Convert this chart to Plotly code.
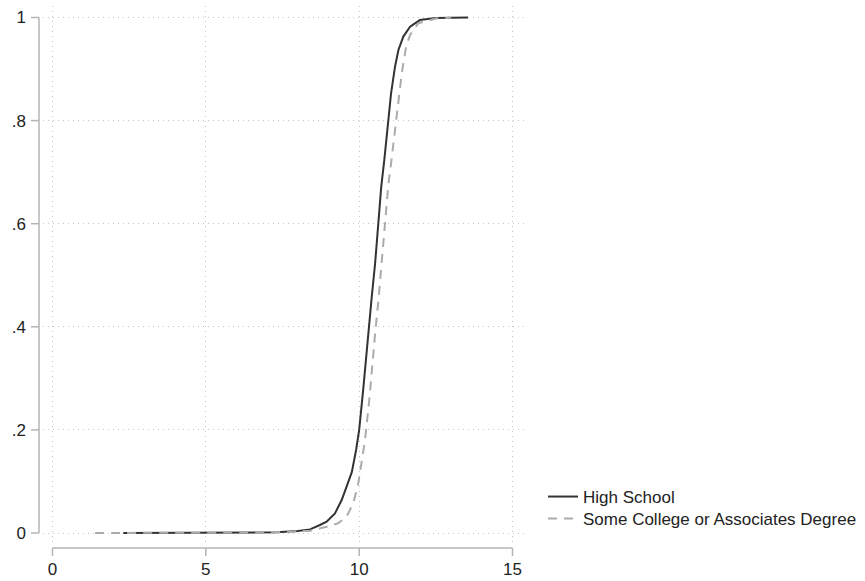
import plotly.graph_objects as go

hs_x = [2.31, 4.0, 6.0, 7.3, 8.0, 8.4, 8.72, 8.94, 9.21, 9.43, 9.59, 9.76, 9.90, 10.0,
        10.13, 10.24, 10.32, 10.41, 10.52, 10.62, 10.72, 10.82, 10.95, 11.04, 11.17,
        11.28, 11.44, 11.66, 11.98, 12.5, 13.55]
hs_y = [0.0, 0.0003, 0.0008, 0.0014, 0.004, 0.007, 0.0155, 0.022, 0.038, 0.064, 0.090,
        0.118, 0.161, 0.200, 0.277, 0.355, 0.400, 0.458, 0.523, 0.601, 0.672, 0.724,
        0.801, 0.853, 0.905, 0.937, 0.963, 0.982, 0.995, 0.999, 1.0]

sc_x = [1.39, 3.0, 5.0, 7.0, 8.0, 8.4, 8.94, 9.32, 9.59, 9.81, 9.97, 10.05, 10.19, 10.33,
        10.44, 10.52, 10.62, 10.73, 10.84, 10.95, 11.04, 11.17, 11.28, 11.39, 11.53,
        11.66, 11.93, 12.5, 13.0]
sc_y = [0.0, 0.0002, 0.0005, 0.001, 0.003, 0.0045, 0.012, 0.019, 0.032, 0.058, 0.096,
        0.129, 0.180, 0.258, 0.336, 0.387, 0.446, 0.523, 0.601, 0.675, 0.717, 0.781,
        0.840, 0.892, 0.943, 0.966, 0.989, 0.998, 1.0]

x_ticks = [0, 5, 10, 15]
x_labels = ["0", "5", "10", "15"]
y_ticks = [0, 0.2, 0.4, 0.6, 0.8, 1.0]
y_labels = ["0", ".2", ".4", ".6", ".8", "1"]

W, H = 865, 581
L, R, T, B = 43, 341, 6, 38
pw, ph = W - L - R, H - T - B
AXC = "#b4b4b4"
GRIDC = "#c4c4c4"
FONT = "Liberation Sans, Arial, Helvetica, sans-serif"

fig = go.Figure()
fig.add_trace(go.Scatter(x=hs_x, y=hs_y, mode="lines", name="High School",
                         line=dict(color="#333333", width=2), legend="legend"))
fig.add_trace(go.Scatter(x=sc_x, y=sc_y, mode="lines",
                         name="Some College or Associates Degree",
                         line=dict(color="#ababab", width=2, dash="9px,7px"),
                         legend="legend2"))

# Stata-style offset axis lines and tick marks
px_yaxis = (39 - L) / pw
px_ytick = (31 - L) / pw
py_xaxis = (543 - 548) / ph
py_xtick = (543 - 556) / ph
shapes = [dict(type="line", xref="paper", yref="y", x0=px_yaxis, x1=px_yaxis,
               y0=y_ticks[0], y1=y_ticks[-1], line=dict(color=AXC, width=1.5))]
for v in y_ticks:
    shapes.append(dict(type="line", xref="paper", yref="y", x0=px_ytick, x1=px_yaxis,
                       y0=v, y1=v, line=dict(color=AXC, width=1.5)))
shapes.append(dict(type="line", xref="x", yref="paper", x0=x_ticks[0], x1=x_ticks[-1],
                   y0=py_xaxis, y1=py_xaxis, line=dict(color=AXC, width=1.5)))
for v in x_ticks:
    shapes.append(dict(type="line", xref="x", yref="paper", x0=v, x1=v,
                       y0=py_xtick, y1=py_xaxis, line=dict(color=AXC, width=1.5)))

xscale = (512.5 - 52.5) / 15
x0 = (L - 52.5) / xscale
x1 = (L + pw - 52.5) / xscale
yscale = 533 - 17.5
y1 = (533 - T) / yscale
y0 = (533 - (T + ph)) / yscale

leg_common = dict(xanchor="left", yanchor="middle", bgcolor="rgba(0,0,0,0)",
                  font=dict(size=17, family=FONT, color="#222222"))

fig.update_layout(
    width=W, height=H,
    margin=dict(l=L, r=R, t=T, b=B, autoexpand=False),
    paper_bgcolor="white", plot_bgcolor="white",
    font=dict(family=FONT, size=17, color="#222222"),
    shapes=shapes,
    xaxis=dict(range=[x0, x1], tickvals=x_ticks, ticktext=x_labels, showline=False,
               zeroline=False, showgrid=True, gridcolor=GRIDC, griddash="1px,4px",
               gridwidth=1, ticks="", ticklabelstandoff=14, automargin=False),
    yaxis=dict(range=[y0, y1], tickvals=y_ticks, ticktext=y_labels, showline=False,
               zeroline=False, showgrid=True, gridcolor=GRIDC, griddash="1px,4px",
               gridwidth=1, ticks="", ticklabelstandoff=16, automargin=False),
    legend=dict(x=(543 - L) / pw, y=(543 - 497) / ph, **leg_common),
    legend2=dict(x=(543 - L) / pw, y=(543 - 519) / ph, **leg_common),
    showlegend=True,
)

fig.write_html("out.html")
